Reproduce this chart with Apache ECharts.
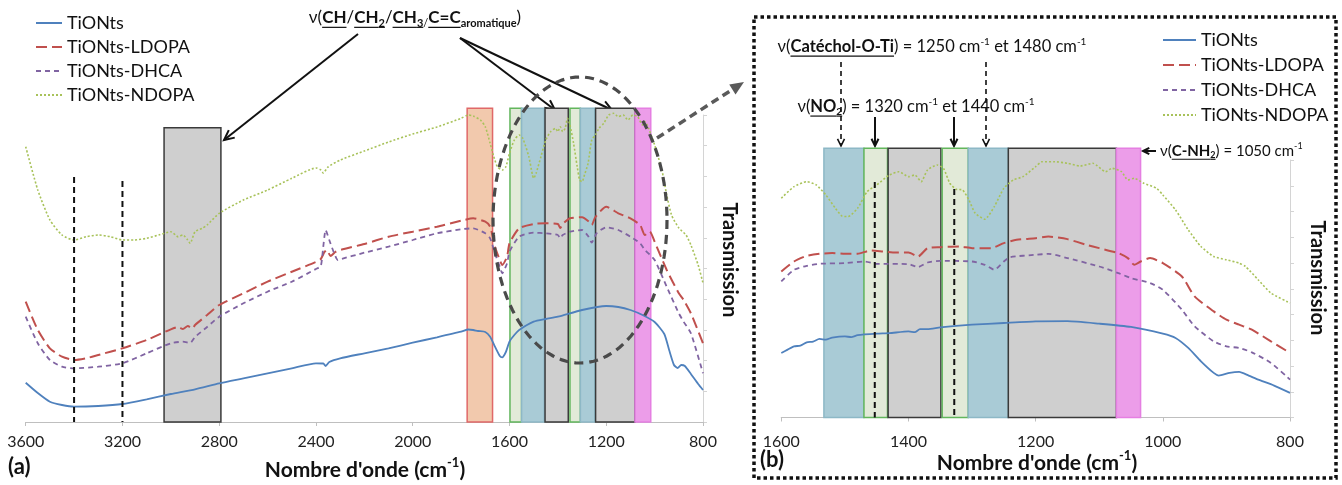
<!DOCTYPE html>
<html><head><meta charset="utf-8">
<script src="https://cdn.jsdelivr.net/npm/echarts@6/dist/echarts.min.js"></script>
<style>html,body{margin:0;padding:0;background:#fff}#c{width:1342px;height:485px}</style>
</head><body><div id="c"></div><script>
// ---------------- DATA ----------------
const seriesNames = ['TiONts', 'TiONts-LDOPA', 'TiONts-DHCA', 'TiONts-NDOPA'];
const xTicksA = [3600, 3200, 2800, 2400, 2000, 1600, 1200, 800];
const xTicksB = [1600, 1400, 1200, 1000, 800];

// panel (a): [wavenumber cm-1, transmission (a.u.)]
const tiontsA = [[3600,39.3],[3550,29],[3500,20.3],[3450,17],[3400,15.3],[3300,16],[3200,18],[3100,22.7],[3000,28],[2900,32.7],[2800,38.7],[2700,43.7],[2600,48.7],[2500,53.7],[2400,58.7],[2370,58.5],[2360,56],[2345,60],[2300,63.7],[2200,68.7],[2100,73.7],[2000,79.3],[1900,84.7],[1800,90.3],[1770,92.5],[1750,92],[1730,91],[1700,90],[1680,85.3],[1660,75.3],[1640,66],[1630,64.7],[1615,70],[1600,80.3],[1580,87],[1560,92],[1500,100.3],[1450,103],[1400,105.3],[1300,112],[1200,116],[1150,115],[1100,112],[1050,107],[1000,100],[960,88],[940,72],[920,57],[905,54],[890,57],[875,56],[850,48],[820,38],[800,32]];
const ldopaA = [[3600,120.3],[3550,92],[3500,73.7],[3450,65.3],[3400,62],[3350,63.7],[3300,67],[3200,73.7],[3100,82],[3000,92.7],[2970,95],[2950,93],[2930,96],[2910,93.5],[2900,97],[2850,107],[2800,117],[2700,128.7],[2600,140.3],[2500,150.3],[2400,160],[2380,163],[2365,170],[2355,172],[2340,166],[2320,170],[2300,172],[2200,178],[2100,185.3],[2000,190.3],[1900,195.3],[1800,201.3],[1750,203.7],[1700,200.3],[1680,195.3],[1660,175.3],[1640,162],[1630,157],[1610,165.3],[1600,178.7],[1560,193.7],[1500,198],[1450,198.7],[1400,198],[1390,194],[1380,198],[1350,203.7],[1300,204.7],[1270,200],[1260,197],[1245,205],[1200,215.3],[1150,208.7],[1100,203.7],[1060,197],[1040,187],[1020,190.3],[1000,180.3],[950,152],[900,128.7],[880,122],[850,108.7],[800,78.7]];
const dhcaA = [[3600,105.3],[3550,78.7],[3500,62],[3450,55.3],[3400,53.7],[3300,55.3],[3200,58.7],[3100,68.7],[3000,78.7],[2950,80.3],[2920,79],[2900,85],[2850,95],[2800,105.3],[2700,118.7],[2600,130.3],[2500,140.3],[2400,153],[2380,156],[2370,175],[2360,192],[2345,182],[2330,172],[2310,162],[2300,162.7],[2200,169.3],[2100,175.3],[2000,182],[1900,188.7],[1800,192.7],[1750,193.7],[1700,188.7],[1680,183.7],[1660,168.7],[1640,155.3],[1630,148.7],[1610,158.7],[1600,170.3],[1560,185.3],[1500,189.3],[1450,188.7],[1400,187],[1390,183.7],[1380,187],[1350,190.3],[1300,192],[1275,186],[1260,179.3],[1240,188.7],[1200,194.7],[1150,192],[1100,185.3],[1060,178.7],[1040,172],[1000,162],[950,135.3],[900,108.7],[880,100.3],[850,88.7],[800,48.7]];
const ndopaA = [[3600,275.3],[3550,232],[3500,202],[3450,187],[3400,182],[3350,185.3],[3300,187],[3250,185.3],[3200,182],[3150,182],[3100,183.7],[3050,187],[3000,190.3],[2970,185.3],[2950,187],[2930,182],[2920,178.7],[2900,190.3],[2870,193.7],[2850,197],[2800,208.7],[2700,222],[2600,232],[2500,243.7],[2400,254],[2380,252],[2370,249],[2350,255],[2300,262],[2200,271],[2100,280],[2000,288],[1900,295],[1800,303.7],[1770,307],[1750,306],[1720,302],[1700,295.3],[1680,278.7],[1665,265.3],[1650,255.3],[1630,252],[1615,255.3],[1600,268.7],[1580,282],[1560,287],[1545,283.7],[1520,265.3],[1505,247],[1500,243.7],[1490,248.7],[1470,265.3],[1450,282],[1430,290.3],[1410,293.7],[1400,290.3],[1390,295.3],[1380,290.3],[1370,293.7],[1360,303.7],[1350,297],[1335,278.7],[1320,255.3],[1310,242],[1300,240.3],[1290,247],[1275,258.7],[1260,282],[1245,287],[1230,293.7],[1210,298.7],[1190,307],[1170,308.7],[1150,305.3],[1130,307],[1110,302],[1090,307],[1070,305.3],[1050,297],[1040,300.3],[1025,293.7],[1000,277],[970,252],[950,227],[930,207],[900,194],[870,187],[850,177],[820,157],[800,139]];

// panel (b)
const tiontsB = [[1600,64.7],[1590,68],[1580,71.3],[1570,72],[1560,75.3],[1550,76],[1540,78.7],[1530,78],[1520,80],[1500,81.3],[1490,80.5],[1480,82.5],[1450,84],[1430,84.5],[1400,86.3],[1390,85.5],[1382,88.5],[1370,88.5],[1350,90.3],[1300,93],[1250,94.7],[1200,96.3],[1150,96.5],[1100,94],[1050,90.7],[1000,84],[980,79.7],[960,69.7],[940,56.3],[920,44.7],[912,42],[895,44.7],[880,45.7],[865,42],[850,38],[825,32],[800,24.7]];
const ldopaB = [[1600,146.3],[1580,156.3],[1560,162],[1540,164],[1520,164.7],[1500,164],[1480,164],[1460,167.3],[1440,166.3],[1420,165.3],[1400,165.3],[1385,161.3],[1370,169.7],[1350,170.7],[1320,171.3],[1300,169.7],[1270,169.7],[1250,174.7],[1230,178],[1200,179.7],[1180,181.3],[1150,178.7],[1120,173],[1100,169.7],[1070,164.7],[1055,159.7],[1045,153],[1035,156.3],[1020,159.7],[1000,154.7],[970,141.3],[950,121.3],[920,106.3],[900,98],[880,93],[860,88],[830,76.3],[800,64.7]];
const dhcaB = [[1600,136.3],[1580,148],[1560,152],[1540,154],[1500,154.7],[1470,156.3],[1450,154],[1400,153.7],[1385,150.7],[1370,155.3],[1350,157],[1300,156.3],[1280,153],[1265,148],[1250,156.3],[1240,160.7],[1200,163],[1180,164],[1150,159.7],[1100,151.3],[1070,144.7],[1050,139.7],[1020,134.7],[1000,128],[970,108],[950,91.3],[920,76.3],[900,71.3],[880,69.7],[860,65.3],[830,54.7],[800,38]];
const ndopaB = [[1600,219.7],[1580,231.3],[1560,236.3],[1545,233],[1530,223],[1515,209.7],[1505,202],[1495,201.3],[1480,209.7],[1465,226.3],[1450,233],[1430,243],[1415,246.3],[1400,241.3],[1390,243],[1380,236.3],[1370,248],[1355,253],[1345,249.7],[1335,234.7],[1325,228.7],[1315,228],[1305,218],[1295,204.7],[1280,198.7],[1265,211.3],[1250,229.7],[1235,238],[1220,241.3],[1200,251.3],[1190,256.3],[1170,256.3],[1150,254.7],[1130,252],[1110,254.7],[1090,246.3],[1080,249.7],[1065,246.3],[1055,238],[1045,239.7],[1030,234.7],[1010,229.7],[1000,223],[980,208],[960,188],[940,171.3],[920,161.3],[900,158],[880,154.7],[870,151.3],[850,138],[830,124.7],[800,114.7]];

// highlighted bands: [from cm-1, to cm-1, kind]  kind: 0 gray,1 blue,2 green,3 orange,4 pink
const bandsA = [[1775,1670,3],[1598,1550,2],[1550,1456,1],[1453,1357,0],[1350,1307,2],[1307,1247,1],[1244,1081,0],[1081,1016,4]];
const chBandA = [[3028,2793,0]];
const bandsB = [[1533,1470,1],[1470,1433,2],[1432,1349,0],[1347,1306,2],[1306,1243,1],[1243,1073,0],[1073,1035,4]];
// dashed guide lines: [cm-1, top]
const guidesA = [[3400,245],[3200,241]];
const guidesB = [[1453,236],[1328,229]];

// ---------------- STYLE / LAYOUT ----------------
const FONT = 'Lato, "Open Sans", sans-serif';
const colors = ['#4F81BD', '#C0504D', '#8064A2', '#A8C25A'];
const dashes = ['solid', [11,5], [5,4], [2,2]];
const widths = [1.8, 2, 1.8, 1.6];
const bandStyles = [
  {fill:'#cfcfcf', stroke:'#3a3a3a'},
  {fill:'#a9cbd6', stroke:'#8db8c6'},
  {fill:'#e2ead8', stroke:'#62b65c'},
  {fill:'#f2c9ad', stroke:'#e06868'},
  {fill:'#ec9de9', stroke:'#e57fe2'}
];

const chart = echarts.init(document.getElementById('c'));
const mctx = document.createElement('canvas').getContext('2d');
function tw(t, size, bold) { mctx.font = (bold ? 'bold ' : '') + size + 'px ' + FONT; return mctx.measureText(t).width; }

function richLine(x, y, segs, size, align) {
  const items = segs.map(([t, f = '']) => {
    const small = f.includes('s') || f.includes('p');
    const sz = small ? Math.round(size * 0.62) : size;
    const bold = f.includes('b');
    return {t, sz, bold, u: f.includes('u'),
      dy: f.includes('s') ? size * 0.3 : (f.includes('p') ? -size * 0.33 : 0),
      w: tw(t, sz, bold)};
  });
  const total = items.reduce((a, b) => a + b.w, 0);
  let cx = align === 'center' ? x - total / 2 : x;
  const out = [];
  items.forEach(it => {
    out.push({type:'text', x: cx, y: y + it.dy, silent: true,
      style:{text: it.t, font: (it.bold ? 'bold ' : '') + it.sz + 'px ' + FONT, fill:'#111',
        align:'left', verticalAlign:'middle', textAlign:'left', textVerticalAlign:'middle'}});
    if (it.u) out.push({type:'line', silent:true, shape:{x1: cx, y1: y + size * 0.55, x2: cx + it.w, y2: y + size * 0.55},
      style:{stroke:'#111', lineWidth:1.2}});
    cx += it.w;
  });
  return out;
}

function arrow(x1, y1, x2, y2, o = {}) {
  const color = o.color || '#111', lw = o.width || 2, head = o.head || 10;
  const a = Math.atan2(y2 - y1, x2 - x1), sp = o.spread || 0.45;
  const p1 = [x2 - head * Math.cos(a - sp), y2 - head * Math.sin(a - sp)];
  const p2 = [x2 - head * Math.cos(a + sp), y2 - head * Math.sin(a + sp)];
  const out = [{type:'line', silent:true, shape:{x1, y1, x2: o.filled ? x2 - head * 0.8 * Math.cos(a) : x2, y2: o.filled ? y2 - head * 0.8 * Math.sin(a) : y2},
    style:{stroke: color, lineWidth: lw, lineDash: o.dash || null}}];
  if (o.filled) out.push({type:'polygon', silent:true, shape:{points:[p1, [x2, y2], p2]}, style:{fill: color}});
  else out.push({type:'polyline', silent:true, shape:{points:[p1, [x2, y2], p2]}, style:{stroke: color, lineWidth: lw, fill: null}});
  return out;
}

function bandRenderer(top) {
  return function (params, api) {
    const a = api.coord([api.value(0), top]);
    const b = api.coord([api.value(1), 0]);
    const st = bandStyles[api.value(2)];
    return {type:'rect', shape:{x: Math.min(a[0], b[0]), y: a[1], width: Math.abs(b[0] - a[0]), height: b[1] - a[1]},
      style:{fill: st.fill, stroke: st.stroke, lineWidth: 1.5}};
  };
}
function guideRenderer(params, api) {
  const a = api.coord([api.value(0), api.value(1)]);
  const b = api.coord([api.value(0), 0]);
  return {type:'line', shape:{x1: a[0], y1: a[1], x2: b[0], y2: b[1]}, style:{stroke:'#111', lineWidth:2, lineDash:[6,4]}};
}

const dataA = [tiontsA, ldopaA, dhcaA, ndopaA];
const dataB = [tiontsB, ldopaB, dhcaB, ndopaB];
const series = [];
[[bandsA, 0, 313.7], [chBandA, 0, 294.3], [bandsB, 1, 269.7]].forEach(([d, p, top]) => series.push({
  type:'custom', xAxisIndex:p, yAxisIndex:p, data:d, renderItem: bandRenderer(top), encode:{x:[0,1], y:2}, z:1, silent:true
}));
[dataA, dataB].forEach((set, p) => set.forEach((d, i) => series.push({
  type:'line', name: seriesNames[i], xAxisIndex:p, yAxisIndex:p, data:d, symbol:'none', smooth:0.2, clip:false, z:3,
  lineStyle:{color: colors[i], width: widths[i], type: dashes[i]}, itemStyle:{color: colors[i]}
})));
[[guidesA, 0], [guidesB, 1]].forEach(([d, p]) => series.push({
  type:'custom', xAxisIndex:p, yAxisIndex:p, data:d, renderItem: guideRenderer, encode:{x:0, y:1}, z:5, silent:true
}));

function xAxisCfg(ticks, gi, margin) {
  return {gridIndex:gi, type:'value', inverse:true, min: Math.min(...ticks), max: Math.max(...ticks), interval: ticks[0] - ticks[1],
    axisLine:{onZero:false, lineStyle:{color:'#bfbfbf', width:1.2}}, axisTick:{length:4, lineStyle:{color:'#bfbfbf'}},
    splitLine:{show:false}, axisLabel:{fontSize:16, color:'#222', fontFamily:FONT, margin, formatter: v => String(v)}};
}
function yAxisCfg(gi, max) {
  return {gridIndex:gi, type:'value', position:'right', min:0, max, interval: max / 10,
    axisLine:{show:true, lineStyle:{color:'#d4d4d4'}}, axisTick:{show:true, length:4, lineStyle:{color:'#d4d4d4'}},
    axisLabel:{show:false}, splitLine:{show:false}};
}

const g = [];
// panel (a) annotations
g.push(...richLine(415, 18, [['ν('],['CH','bu'],['/'],['CH','bu'],['2','bus'],['/'],['CH','bu'],['3','bus'],['/','s'],['C=C','bu'],['aromatique','bs'],[')']], 17, 'center'));
g.push(...arrow(358, 34, 224, 140, {width:2, head:11}));
g.push(...arrow(460, 38, 555, 110, {width:2, head:11}));
g.push(...arrow(460, 38, 612, 110, {width:2, head:11}));
const ell = [];
for (let k = 0; k <= 120; k++) { const t = k / 120 * Math.PI * 2; ell.push([580 + 87 * Math.cos(t), 220 + 143 * Math.sin(t)]); }
g.push({type:'polygon', silent:true, z:10, shape:{points:ell}, style:{fill:null, stroke:'#4a4a4a', lineWidth:3.2, lineDash:[9,6]}});
g.push(...arrow(657, 138, 744, 82, {color:'#5a5a5a', width:3.5, head:15, spread:0.4, filled:true, dash:[8,5]}));
g.push(...richLine(8, 467, [['(a)','b']], 22, 'left'));
g.push(...richLine(365, 470, [["Nombre d'onde (cm",'b'],['-1','bp'],[')','b']], 21, 'center'));
g.push({type:'text', x:729, y:260, rotation:-Math.PI/2, silent:true,
  style:{text:'Transmission', font:'bold 20px ' + FONT, fill:'#111', align:'center', verticalAlign:'middle', textAlign:'center', textVerticalAlign:'middle'}});
// panel (b)
g.push({type:'rect', silent:true, shape:{x:754, y:17, width:582, height:461}, style:{fill:null, stroke:'#111', lineWidth:3.5, lineDash:[3.5,3]}});
g.push(...richLine(932, 47, [['ν('],['Catéchol-O-Ti','bu'],[') = 1250 cm'],['-1','p'],[' et 1480 cm'],['-1','p']], 16.5, 'center'));
g.push(...richLine(916, 107, [['ν('],['NO','bu'],['2','bus'],[') = 1320 cm'],['-1','p'],[' et 1440 cm'],['-1','p']], 16.5, 'center'));
g.push(...richLine(1160, 151, [['ν('],['C-NH','bu'],['2','bus'],[') = 1050 cm'],['-1','p']], 15, 'left'));
g.push(...arrow(841, 62, 841, 146, {width:1.6, head:8, dash:[5,4]}));
g.push(...arrow(986, 62, 986, 146, {width:1.6, head:8, dash:[5,4]}));
g.push(...arrow(875, 117, 875, 146, {width:2, head:8}));
g.push(...arrow(954, 117, 954, 146, {width:2, head:8}));
g.push(...arrow(1156, 151, 1143, 151, {width:2, head:7}));
g.push(...richLine(760, 460, [['(b)','b']], 22, 'left'));
g.push(...richLine(1037, 463, [["Nombre d'onde (cm",'b'],['-1','bp'],[')','b']], 21, 'center'));
g.push({type:'text', x:1317, y:278, rotation:-Math.PI/2, silent:true,
  style:{text:'Transmission', font:'bold 20px ' + FONT, fill:'#111', align:'center', verticalAlign:'middle', textAlign:'center', textVerticalAlign:'middle'}});

const legendBase = {data: seriesNames, orient:'vertical', itemHeight:12, selectedMode:false,
  itemStyle:{opacity:0}, textStyle:{fontSize:18, fontFamily:FONT, color:'#111'}};
chart.setOption({
  animation:false,
  backgroundColor:'#fff',
  grid:[{left:25.7, right:639, top:115, bottom:63}, {left:781.3, right:52, top:160, bottom:67.5}],
  xAxis:[xAxisCfg(xTicksA, 0, 12), xAxisCfg(xTicksB, 1, 16)],
  yAxis:[yAxisCfg(0, 307), yAxisCfg(1, 258)],
  legend:[Object.assign({}, legendBase, {left:30, top:9, itemWidth:26, itemGap:6}),
          Object.assign({}, legendBase, {left:1157, top:26, itemWidth:33, itemGap:7})],
  series,
  graphic: g
});
</script></body></html>
